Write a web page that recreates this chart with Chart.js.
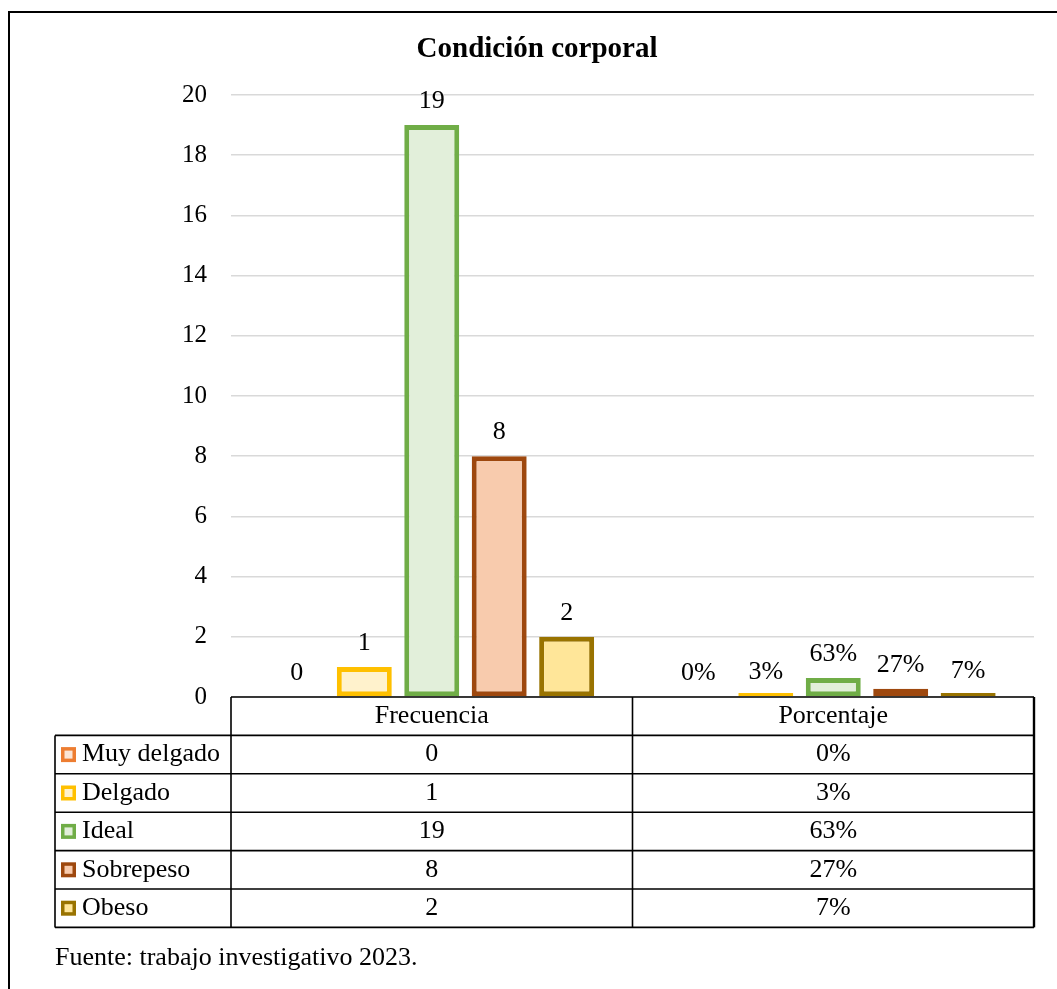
<!DOCTYPE html>
<html>
<head>
<meta charset="utf-8">
<script src="https://cdn.jsdelivr.net/npm/chart.js@4"></script>
<style>
  body { margin: 0; background: #fff; }
</style>
</head>
<body>
<canvas id="condicion_chart" width="1057" height="989"></canvas>
<script>
const chart_title = 'Condición corporal';
const categories = ['Frecuencia', 'Porcentaje'];
const series_names = ['Muy delgado', 'Delgado', 'Ideal', 'Sobrepeso', 'Obeso'];
const frecuencia = [0, 1, 19, 8, 2];
const porcentaje = [0, 0.03, 0.63, 0.27, 0.07];
const y_ticks = [0, 2, 4, 6, 8, 10, 12, 14, 16, 18, 20];
const fuente = 'Fuente: trabajo investigativo 2023.';

const border_colors = ['#ED7D31', '#FFC000', '#70AD47', '#9E480E', '#997300'];
const fill_colors = ['#FBE5D6', '#FFF2CC', '#E2EFDA', '#F8CBAD', '#FFE699'];
const serif = '"Liberation Serif", "Times New Roman", serif';
const text_size = 26;

function format_value(cat_index, v) {
	return cat_index === 1 ? Math.round(v * 100) + '%' : String(v);
}

const table_plugin = {
	id: 'table_plugin',
	afterDraw(chart) {
		const ctx = chart.ctx;
		const x = chart.scales.x;
		const y = chart.scales.y;
		const area = chart.chartArea;
		const row_h = 38.4;
		const top = area.bottom;
		const table_left = 55;
		const split = (x.getPixelForValue(0) + x.getPixelForValue(1)) / 2;
		const n = series_names.length;
		const bottom = top + row_h * (n + 1);

		ctx.save();
		// outer frame
		ctx.strokeStyle = '#000';
		ctx.lineWidth = 2;
		ctx.beginPath();
		ctx.moveTo(9, 1000);
		ctx.lineTo(9, 12);
		ctx.lineTo(1057, 12);
		ctx.stroke();

		// title
		ctx.fillStyle = '#000';
		ctx.font = 'bold 29px ' + serif;
		ctx.textAlign = 'center';
		ctx.textBaseline = 'middle';
		ctx.fillText(chart_title, 537, 50);

		// data labels
		ctx.font = text_size + 'px ' + serif;
		chart.data.datasets.forEach((ds, i) => {
			ds.data.forEach((v, j) => {
				const px = chart.getDatasetMeta(i).data[j].x;
				ctx.fillText(format_value(j, v), px, y.getPixelForValue(v) - 24);
			});
		});

		// table grid
		ctx.lineWidth = 1.6;
		ctx.beginPath();
		ctx.moveTo(area.left, top);
		ctx.lineTo(area.right, top);
		for (let r = 1; r <= n + 1; r++) {
			ctx.moveTo(table_left, top + r * row_h);
			ctx.lineTo(area.right, top + r * row_h);
		}
		ctx.moveTo(area.left, top);
		ctx.lineTo(area.left, bottom);
		ctx.moveTo(split, top);
		ctx.lineTo(split, bottom);
		ctx.moveTo(table_left, top + row_h);
		ctx.lineTo(table_left, bottom);
		ctx.stroke();
		ctx.lineWidth = 2.4;
		ctx.beginPath();
		ctx.moveTo(area.right, top);
		ctx.lineTo(area.right, bottom);
		ctx.stroke();

		// header
		categories.forEach((c, j) => {
			ctx.fillText(c, x.getPixelForValue(j), top + row_h / 2);
		});

		// rows
		series_names.forEach((name, i) => {
			const cy = top + row_h * (i + 1.5);
			ctx.fillStyle = border_colors[i];
			ctx.fillRect(61, cy - 7.5, 15, 15);
			ctx.fillStyle = fill_colors[i];
			ctx.fillRect(64.5, cy - 4, 8, 8);
			ctx.fillStyle = '#000';
			ctx.textAlign = 'left';
			ctx.fillText(name, 82, cy);
			ctx.textAlign = 'center';
			ctx.fillText(format_value(0, frecuencia[i]), x.getPixelForValue(0), cy);
			ctx.fillText(format_value(1, porcentaje[i]), x.getPixelForValue(1), cy);
		});

		// source
		ctx.textAlign = 'left';
		ctx.fillText(fuente, 55, 958);
		ctx.restore();
	}
};

const condicion_chart = new Chart(
		document.getElementById('condicion_chart').getContext('2d'),
		{
			type: 'bar',
			data: {
				labels: categories,
				datasets: series_names.map((name, i) => ({
					label: name,
					data: [frecuencia[i], porcentaje[i]],
					backgroundColor: fill_colors[i],
					borderColor: border_colors[i],
					borderWidth: 5,
					borderSkipped: false,
					minBarLength: frecuencia[i] === 0 ? 0 : 4,
					barPercentage: 0.815,
					categoryPercentage: 0.84
				}))
			},
			options: {
				responsive: false,
				animation: false,
				layout: {
					padding: { top: 95, bottom: 292, right: 23, left: 0 }
				},
				scales: {
					x: { display: false },
					y: {
						min: 0,
						max: 20,
						afterFit: (scale) => { scale.width = 231; },
						afterBuildTicks: (scale) => { scale.ticks = y_ticks.map(v => ({ value: v })); },
						border: { display: false },
						grid: { color: '#D9D9D9', lineWidth: 1.5, drawTicks: false },
						ticks: {
							padding: 24,
							color: '#000',
							font: { family: serif, size: 25 }
						}
					}
				},
				plugins: {
					legend: { display: false },
					title: { display: false },
					tooltip: { enabled: false }
				}
			},
			plugins: [table_plugin],
		}
);
</script>
</body>
</html>
